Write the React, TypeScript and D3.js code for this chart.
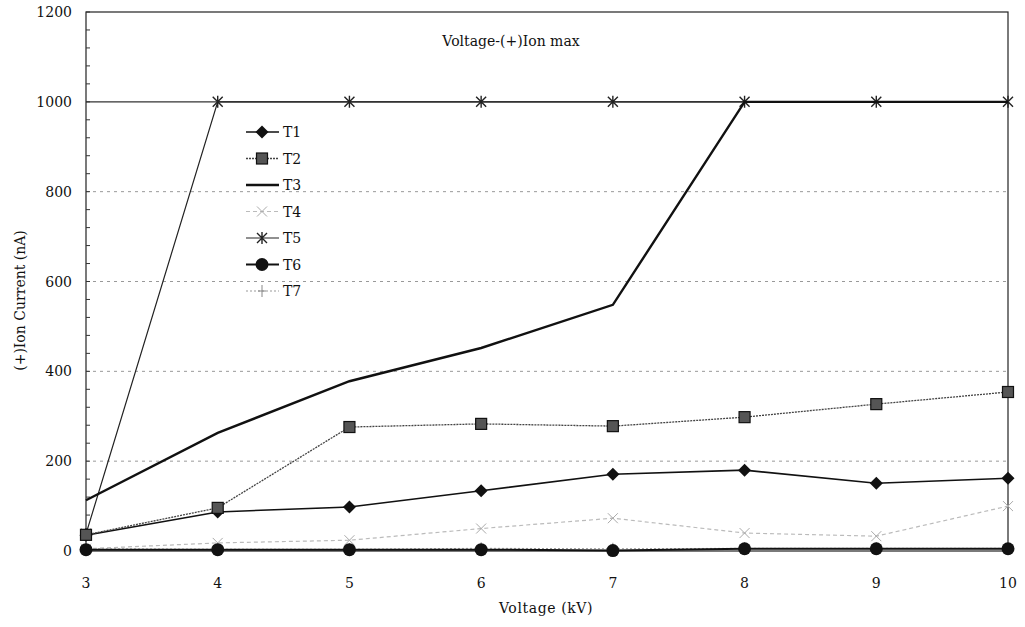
import React from "react";
import * as d3 from "d3";

const voltages = [3, 4, 5, 6, 7, 8, 9, 10];
const yTicks = [0, 200, 400, 600, 800, 1000, 1200];
const gridValues = [200, 400, 600, 800];
const solidGrid = [1000];

const T1 = [35, 87, 98, 134, 171, 180, 151, 162];
const T2 = [36, 96, 276, 283, 278, 298, 327, 354];
const T3 = [113, 263, 378, 452, 548, 1000, 1000, 1000];
const T4 = [5, 18, 24, 50, 73, 40, 33, 100];
const T5 = [38, 1000, 1000, 1000, 1000, 1000, 1000, 1000];
const T6 = [3, 3, 3, 3, 1, 5, 5, 5];
const T7 = [5, 4, 4, 6, 5, 6, 6, 6];

type Series = {
  name: string;
  values: number[];
  stroke: string;
  width: number;
  dash?: string;
  marker: "diamond" | "square" | "none" | "x" | "star" | "circle" | "plus";
  mfill: string;
};

const series: Series[] = [
  { name: "T1", values: T1, stroke: "#111", width: 1.6, marker: "diamond", mfill: "#111" },
  { name: "T2", values: T2, stroke: "#444", width: 1.3, dash: "2,1", marker: "square", mfill: "#555" },
  { name: "T3", values: T3, stroke: "#111", width: 2.4, marker: "none", mfill: "#111" },
  { name: "T4", values: T4, stroke: "#bbb", width: 1.2, dash: "4,3", marker: "x", mfill: "#aaa" },
  { name: "T5", values: T5, stroke: "#222", width: 1.2, marker: "star", mfill: "#222" },
  { name: "T6", values: T6, stroke: "#111", width: 2, marker: "circle", mfill: "#111" },
  { name: "T7", values: T7, stroke: "#999", width: 1, dash: "2,2", marker: "plus", mfill: "#888" },
];

const left = 86, right = 1008, top = 12, bottom = 551;
const x = d3.scaleLinear().domain([3, 10]).range([left, right]);
const y = d3.scaleLinear().domain([0, 1200]).range([bottom, top]);

function Marker({ kind, cx, cy, fill }: { kind: string; cx: number; cy: number; fill: string }) {
  switch (kind) {
    case "diamond":
      return <path d={`M${cx},${cy - 6.5}L${cx + 6.5},${cy}L${cx},${cy + 6.5}L${cx - 6.5},${cy}Z`} fill={fill} />;
    case "square":
      return <rect x={cx - 5.5} y={cy - 5.5} width={11} height={11} fill={fill} stroke="#111" strokeWidth={1.2} />;
    case "circle":
      return <circle cx={cx} cy={cy} r={6.5} fill={fill} />;
    case "x":
      return (
        <path d={`M${cx - 5},${cy - 5}L${cx + 5},${cy + 5}M${cx - 5},${cy + 5}L${cx + 5},${cy - 5}`} stroke={fill} strokeWidth={1} />
      );
    case "star":
      return (
        <path
          d={`M${cx - 5},${cy - 5}L${cx + 5},${cy + 5}M${cx - 5},${cy + 5}L${cx + 5},${cy - 5}M${cx},${cy - 6}L${cx},${cy + 6}`}
          stroke={fill}
          strokeWidth={1.4}
        />
      );
    case "plus":
      return <path d={`M${cx},${cy - 6}L${cx},${cy + 6}M${cx - 4},${cy}L${cx + 4},${cy}`} stroke={fill} strokeWidth={1} />;
    default:
      return null;
  }
}

export default function App() {
  const line = d3
    .line<number>()
    .x((_, i) => x(voltages[i]))
    .y((v) => y(v));
  const minor = d3.range(0, 1201, 40);
  const font = "'DejaVu Serif', 'Liberation Serif', serif";
  const drawOrder = [6, 3, 4, 0, 1, 2, 5];
  return (
    <svg width={1025} height={627} style={{ position: "absolute", left: 0, top: 0, background: "#fff" }} fontFamily={font}>
      <rect width={1025} height={627} fill="#fff" />
      {gridValues.map((g) => (
        <line key={g} x1={left} x2={right} y1={y(g)} y2={y(g)} stroke="#999" strokeWidth={1} strokeDasharray="3,4" />
      ))}
      {solidGrid.map((g) => (
        <line key={g} x1={left} x2={right} y1={y(g)} y2={y(g)} stroke="#333" strokeWidth={1.2} />
      ))}
      <rect x={left} y={top} width={right - left} height={bottom - top} fill="none" stroke="#222" strokeWidth={1.2} />
      {minor.map((m) => (
        <line key={m} x1={left} x2={left + 4} y1={y(m)} y2={y(m)} stroke="#333" strokeWidth={1} />
      ))}
      {yTicks.map((t) => (
        <text key={t} x={left - 14} y={y(t) + 5} textAnchor="end" fontSize={14} fill="#111">
          {t}
        </text>
      ))}
      {voltages.map((v) => (
        <text key={v} x={x(v)} y={588} textAnchor="middle" fontSize={14} fill="#111">
          {v}
        </text>
      ))}
      <text x={546} y={613} textAnchor="middle" fontSize={14} fill="#111" letterSpacing={0.6}>
        Voltage (kV)
      </text>
      <text transform={`translate(25,${y(600) + 19}) rotate(-90)`} textAnchor="middle" fontSize={14} fill="#111">
        (+)Ion Current (nA)
      </text>
      <text x={511} y={46} textAnchor="middle" fontSize={14} fill="#111">
        Voltage-(+)Ion max
      </text>
      {drawOrder.map((si) => {
        const s = series[si];
        return (
          <g key={s.name}>
            <path d={line(s.values) || ""} fill="none" stroke={s.stroke} strokeWidth={s.width} strokeDasharray={s.dash} />
            {s.values.map((v, i) => (
              <Marker key={i} kind={s.marker} cx={x(voltages[i])} cy={y(v)} fill={s.mfill} />
            ))}
          </g>
        );
      })}
      {series.map((s, i) => {
        const ly = 132 + i * 26.5;
        return (
          <g key={s.name}>
            <line x1={246} x2={279} y1={ly} y2={ly} stroke={s.stroke} strokeWidth={s.width} strokeDasharray={s.dash} />
            <Marker kind={s.marker} cx={262} cy={ly} fill={s.mfill} />
            <text x={283} y={ly + 5} fontSize={14} fill="#111">
              {s.name}
            </text>
          </g>
        );
      })}
    </svg>
  );
}
